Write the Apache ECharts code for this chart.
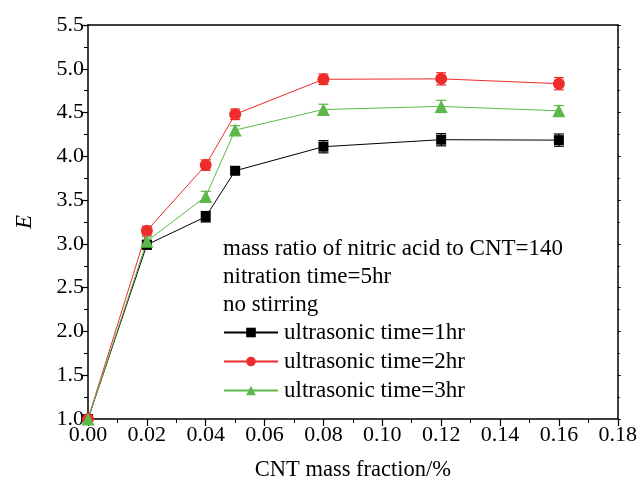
<!DOCTYPE html>
<html><head><meta charset="utf-8">
<script src="https://cdn.jsdelivr.net/npm/echarts@6/dist/echarts.min.js"></script>
<style>html,body{margin:0;padding:0;background:#fff}#c{width:640px;height:491px}</style>
</head><body><div id="c"></div>
<script>
const xValues = [0.00, 0.02, 0.04, 0.05, 0.08, 0.12, 0.16];
const e1hr = [1.00, 2.99, 3.31, 3.835, 4.11, 4.19, 4.185];
const e2hr = [1.00, 3.15, 3.90, 4.48, 4.88, 4.885, 4.83];
const e3hr = [1.00, 3.03, 3.54, 4.30, 4.535, 4.57, 4.52];
const err1hr = [0.00, 0.05, 0.06, 0.04, 0.07, 0.07, 0.07];
const err2hr = [0.00, 0.05, 0.06, 0.06, 0.06, 0.07, 0.07];
const err3hr = [0.00, 0.05, 0.06, 0.05, 0.06, 0.07, 0.06];
const seriesNames = ['ultrasonic time=1hr', 'ultrasonic time=2hr', 'ultrasonic time=3hr'];
const noteLines = ['mass ratio of nitric acid to CNT=140', 'nitration time=5hr', 'no stirring'];
const xTitle = 'CNT mass fraction/%';
const yTitle = 'E';

const FONT = '"Liberation Serif", "Times New Roman", serif';
const colors = ['#000000', '#ee2c2c', '#5cb848'];
const symbols = ['rect', 'circle', 'triangle'];
const symSizes = [10, 12, 13];

function pairs(vals) { return xValues.map((x, i) => [x, vals[i]]); }
function errData(vals, errs) { return xValues.map((x, i) => [x, vals[i] - errs[i], vals[i] + errs[i]]); }

function errSeries(vals, errs, color) {
  return {
    type: 'custom', silent: true, z: 1,
    data: errData(vals, errs),
    renderItem: function (params, api) {
      if (api.value(2) - api.value(1) <= 0) return null;
      const lo = api.coord([api.value(0), api.value(1)]);
      const hi = api.coord([api.value(0), api.value(2)]);
      const w = 5;
      const st = { stroke: color, lineWidth: 1.2 };
      return { type: 'group', children: [
        { type: 'line', shape: { x1: lo[0], y1: lo[1], x2: hi[0], y2: hi[1] }, style: st },
        { type: 'line', shape: { x1: lo[0] - w, y1: lo[1], x2: lo[0] + w, y2: lo[1] }, style: st },
        { type: 'line', shape: { x1: hi[0] - w, y1: hi[1], x2: hi[0] + w, y2: hi[1] }, style: st }
      ]};
    }
  };
}

const lineVals = [e1hr, e2hr, e3hr];
const errVals = [err1hr, err2hr, err3hr];
const series = [];
lineVals.forEach((v, i) => {
  series.push({
    name: seriesNames[i], type: 'line', data: pairs(v), z: 3,
    symbol: symbols[i], symbolSize: symSizes[i],
    lineStyle: { color: colors[i], width: 1 },
    itemStyle: { color: colors[i] }
  });
  series.push(errSeries(v, errVals[i], colors[i]));
});

const chart = echarts.init(document.getElementById('c'), null, { renderer: 'canvas' });
chart.setOption({
  animation: false,
  backgroundColor: '#fff',
  textStyle: { fontFamily: FONT },
  grid: { left: 88, right: 22, top: 25, bottom: 72, containLabel: false },
  legend: {
    orient: 'vertical', left: 223, top: 321, itemGap: 6, padding: 0,
    itemWidth: 54, itemHeight: 12,
    textStyle: { fontFamily: FONT, fontSize: 23, color: '#000', padding: [0, 0, 0, 1] },
    data: seriesNames
  },
  graphic: noteLines.map((t, i) => ({
    type: 'text', left: 223, top: 237 + i * 28.3,
    style: { text: t, font: '23px ' + FONT, fill: '#000' }
  })),
  xAxis: [{
    type: 'value', min: 0, max: 0.18, interval: 0.02,
    name: xTitle, nameLocation: 'middle', nameGap: 40,
    nameTextStyle: { fontFamily: FONT, fontSize: 22.5, color: '#000' },
    axisLine: { show: true, lineStyle: { color: '#000', width: 1.5 } },
    axisTick: { show: true, length: 7, lineStyle: { color: '#000', width: 1.2 } },
    minorTick: { show: true, splitNumber: 2, length: 4, lineStyle: { color: '#000', width: 1 } },
    axisLabel: { fontFamily: FONT, fontSize: 22, color: '#000', margin: 5, formatter: v => v.toFixed(2) },
    splitLine: { show: false }
  }, {
    type: 'value', position: 'top', min: 0, max: 0.18, interval: 0.02,
    axisLine: { show: true, onZero: false, lineStyle: { color: '#000', width: 1.5 } },
    axisTick: { show: false }, axisLabel: { show: false }, splitLine: { show: false }
  }],
  yAxis: [{
    type: 'value', min: 1.0, max: 5.5, interval: 0.5,
    name: yTitle, nameLocation: 'middle', nameGap: 52, nameRotate: 90,
    nameTextStyle: { fontFamily: FONT, fontSize: 23, fontStyle: 'italic', color: '#000' },
    axisLine: { show: true, lineStyle: { color: '#000', width: 1.5 } },
    axisTick: { show: true, length: 7, lineStyle: { color: '#000', width: 1.2 } },
    minorTick: { show: true, splitNumber: 2, length: 4, lineStyle: { color: '#000', width: 1 } },
    axisLabel: { fontFamily: FONT, fontSize: 22, color: '#000', margin: 4, formatter: v => v.toFixed(1) },
    splitLine: { show: false }
  }, {
    type: 'value', position: 'right', min: 1.0, max: 5.5, interval: 0.5,
    axisLine: { show: true, onZero: false, lineStyle: { color: '#000', width: 1.5 } },
    axisTick: { show: true, length: 3, lineStyle: { color: '#000', width: 1 } },
    minorTick: { show: true, splitNumber: 2, length: 2, lineStyle: { color: '#000', width: 1 } },
    axisLabel: { show: false }, splitLine: { show: false }
  }],
  series: series
});
</script></body></html>
